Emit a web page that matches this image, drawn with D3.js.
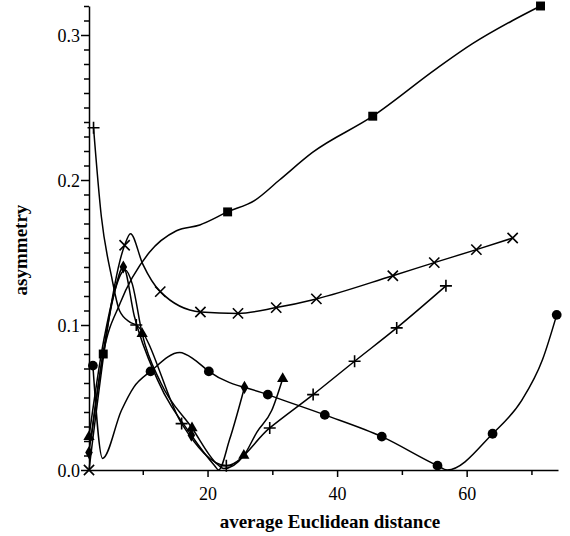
<!doctype html>
<html lang="en">
<head>
<meta charset="UTF-8">
<title>asymmetry vs average Euclidean distance</title>
<script src="https://d3js.org/d3.v7.min.js"></script>
<style>
    body { margin: 0; background: #fff; }
    svg { display: block; font-family: "Liberation Serif", "Times New Roman", serif; }
    .tick-label { font-family: "Liberation Serif", serif; font-size: 18px; fill: #000; }
    .axis-title { font-family: "Liberation Serif", serif; font-size: 19px; font-weight: bold; fill: #000; }
    .curve { fill: none; stroke: #000; stroke-width: 1.5; }
</style>
</head>
<body>
<svg width="570" height="536"></svg>
<script>
    // each point: [distance, asymmetry, marker shown (1) or not (0)]
    const squareSeries = [
        [2.0, 0.02, 0], [3.9, 0.080, 1], [6.5, 0.115, 0], [11.0, 0.150, 0], [15.2, 0.165, 0],
        [18.8, 0.169, 0], [23.1, 0.178, 1], [27.3, 0.186, 0], [31.1, 0.200, 0], [36.2, 0.219, 0],
        [45.5, 0.244, 1], [55.4, 0.277, 0], [60.9, 0.294, 0], [67.1, 0.310, 0], [71.4, 0.320, 1]
    ];
    const crossSeries = [
        [1.7, 0.0, 1], [7.2, 0.155, 1], [8.1, 0.163, 0], [10.0, 0.142, 0], [12.7, 0.123, 1],
        [18.9, 0.109, 1], [24.7, 0.108, 1], [30.6, 0.112, 1], [36.8, 0.118, 1], [48.6, 0.134, 1],
        [55.0, 0.143, 1], [61.5, 0.152, 1], [67.1, 0.160, 1]
    ];
    const plusSeries = [
        [2.4, 0.236, 1], [3.6, 0.175, 0], [5.2, 0.133, 0], [6.4, 0.110, 0], [8.0, 0.102, 0],
        [9.0, 0.100, 1], [16.0, 0.032, 1], [22.9, 0.003, 1], [29.6, 0.029, 1], [36.3, 0.052, 1],
        [42.7, 0.075, 1], [49.2, 0.098, 1], [56.8, 0.127, 1]
    ];
    const circleSeries = [
        [2.3, 0.072, 1], [3.8, 0.008, 0], [6.7, 0.041, 0], [8.6, 0.057, 0], [11.2, 0.068, 1],
        [15.7, 0.081, 0], [18.0, 0.076, 0], [20.2, 0.068, 1], [29.3, 0.052, 1], [38.1, 0.038, 1],
        [46.9, 0.023, 1], [55.5, 0.003, 1], [57.0, 0.0, 0], [64.0, 0.025, 1], [68.5, 0.048, 0],
        [71.7, 0.076, 0], [73.9, 0.107, 1]
    ];
    const diamondSeries = [
        [1.7, 0.012, 1], [3.5, 0.070, 0], [5.5, 0.120, 0], [7.0, 0.140, 1], [8.7, 0.106, 0],
        [12.3, 0.062, 0], [17.5, 0.024, 1], [21.1, 0.003, 0], [21.7, 0.0, 0], [23.4, 0.021, 0],
        [25.7, 0.057, 1]
    ];
    const triangleSeries = [
        [1.7, 0.023, 1], [4.0, 0.090, 0], [7.3, 0.138, 0], [8.4, 0.128, 0], [9.9, 0.094, 1],
        [12.8, 0.060, 0], [17.6, 0.029, 1], [21.5, 0.004, 0], [22.5, 0.001, 0], [25.6, 0.010, 1],
        [27.6, 0.026, 0], [29.9, 0.041, 0], [31.6, 0.063, 1]
    ];

    const xTicks = [10, 20, 30, 40, 50, 60, 70];
    const xLabels = [20, 40, 60];

    const svg = d3.select("svg");
    const x = d3.scaleLinear().domain([1.7, 74.1]).range([89, 558]);
    const y = d3.scaleLinear().domain([0, 0.32]).range([470, 6]);

    // axes
    const xAxis = svg.append("g").attr("transform", `translate(0,${y(0)})`)
        .call(d3.axisBottom(x).tickValues(xTicks)
            .tickSize(0).tickFormat(""));
    xAxis.attr("font-family", null).attr("font-size", null);
    xAxis.select(".domain").attr("stroke", "#000").attr("stroke-width", 1.5);
    xAxis.selectAll(".tick line").remove();
    xAxis.selectAll(".tick text").remove();
    xAxis.selectAll(".tick").append("line")
        .attr("y2", d => xLabels.includes(d) ? 7 : 5)
        .attr("stroke", "#000").attr("stroke-width", 1.5);
    xAxis.selectAll(".tick").filter(d => xLabels.includes(d)).append("text")
        .attr("class", "tick-label")
        .attr("y", 30).attr("text-anchor", "middle")
        .text(d => d);

    const yMinor = d3.range(0, 33).map(i => i / 100);
    const yAxis = svg.append("g").attr("transform", `translate(${x(1.7)},0)`)
        .call(d3.axisLeft(y).tickValues(yMinor).tickSize(0).tickFormat(""));
    yAxis.attr("font-family", null).attr("font-size", null);
    yAxis.select(".domain").attr("stroke", "#000").attr("stroke-width", 1.5);
    yAxis.selectAll(".tick line").remove();
    yAxis.selectAll(".tick text").remove();
    const isMajor = d => Math.abs(d * 10 - Math.round(d * 10)) < 1e-6;
    yAxis.selectAll(".tick").append("line")
        .attr("x2", d => isMajor(d) ? -8 : -5)
        .attr("stroke", "#000").attr("stroke-width", 1.5);
    yAxis.selectAll(".tick").filter(d => isMajor(d)).append("text")
        .attr("class", "tick-label")
        .attr("x", -9).attr("dy", "0.35em").attr("text-anchor", "end")
        .text(d => d3.format(".1f")(d));

    svg.append("text").attr("class", "axis-title")
        .attr("transform", "translate(27,250) rotate(-90)")
        .attr("text-anchor", "middle")
        .text("asymmetry");
    svg.append("text").attr("class", "axis-title")
        .attr("x", 330).attr("y", 528).attr("text-anchor", "middle")
        .text("average Euclidean distance");

    const line = d3.line()
        .x(d => x(d[0])).y(d => y(d[1]))
        .curve(d3.curveMonotoneX);

    const series = [
        { data: squareSeries, symbol: d3.symbolSquare, size: 80, fill: true },
        { data: crossSeries, symbol: d3.symbolTimes, size: 70, fill: false },
        { data: plusSeries, symbol: null, size: 0, fill: false, plus: true },
        { data: circleSeries, symbol: d3.symbolCircle, size: 75, fill: true },
        { data: diamondSeries, symbol: d3.symbolDiamond, size: 50, fill: true },
        { data: triangleSeries, symbol: d3.symbolTriangle, size: 55, fill: true }
    ];

    series.forEach(s => {
        svg.append("path").attr("class", "curve").attr("d", line(s.data));
        const pts = svg.append("g").selectAll("g")
            .data(s.data.filter(d => d[2]))
            .join("g")
            .attr("transform", d => `translate(${x(d[0])},${y(d[1])})`);
        if (s.plus) {
            pts.append("path").attr("d", "M-6,0H6M0,-6V6")
                .attr("stroke", "#000").attr("stroke-width", 1.6);
        } else if (s.fill) {
            pts.append("path").attr("d", d3.symbol(s.symbol, s.size)).attr("fill", "#000");
        } else {
            pts.append("path").attr("d", d3.symbol(s.symbol, s.size))
                .attr("fill", "none").attr("stroke", "#000").attr("stroke-width", 1.6);
        }
    });
</script>
</body>
</html>
